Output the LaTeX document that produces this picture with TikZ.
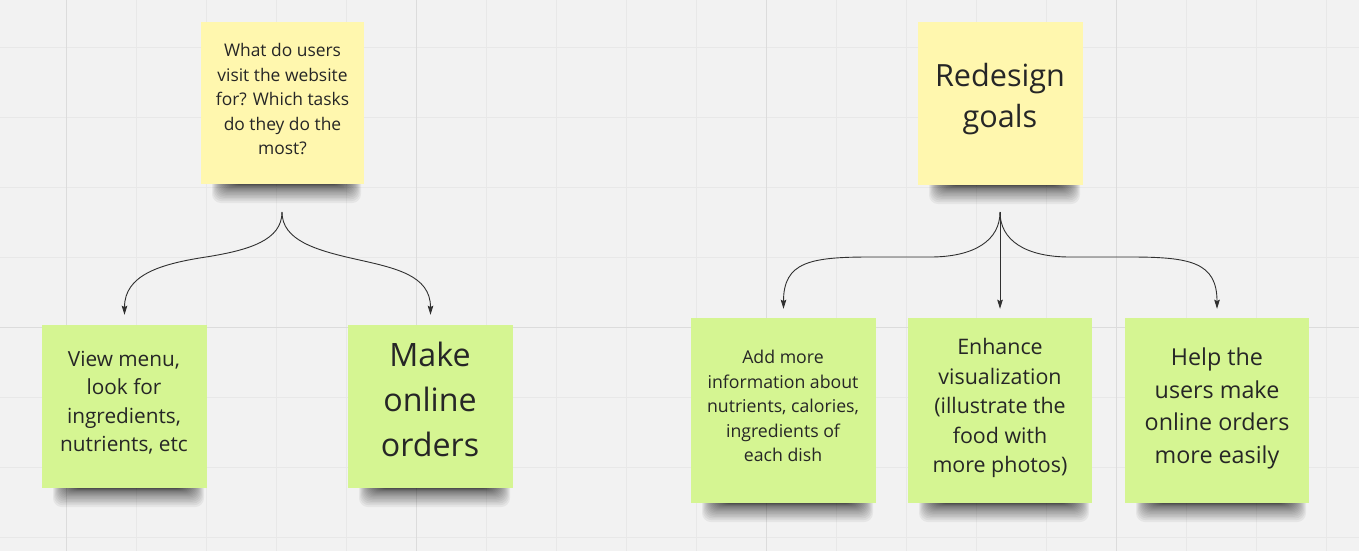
\documentclass[tikz,border=0pt]{standalone}
\usepackage{fontspec}
\setmainfont{Open Sans}
\usetikzlibrary{arrows.meta}
\definecolor{bg}{HTML}{F2F2F2}
\definecolor{gridminor}{HTML}{E8E8E8}
\definecolor{gridmajor}{HTML}{DCDCDC}
\definecolor{noteyellow}{HTML}{FFF7AE}
\definecolor{notegreen}{HTML}{D5F592}
\definecolor{ink}{HTML}{262626}
\definecolor{wire}{HTML}{303030}
\newcommand{\stickyshadow}[3]{%
  \foreach \k in {0,...,19}{%
    \fill[black, opacity=0.05, rounded corners=9pt]
      ({#1+30-1.0*\k},{#3-14}) rectangle ({#2-22+1.0*\k},{#3+1+0.05*\k*\k});
  }%
}
\tikzset{
  note/.style={rectangle, inner sep=0pt, draw=none},
  yellownote/.style={note, fill=noteyellow},
  greennote/.style={note, fill=notegreen},
  notetext/.style={align=center, text=ink, inner sep=0pt},
  conn/.style={draw=wire, line width=0.9pt, -{Stealth[length=9pt,width=5.5pt,inset=1.2pt]}},
}
\begin{document}
\begin{tikzpicture}[x=1pt, y=-1pt]
\useasboundingbox (0,0) rectangle (1359,551);
\fill[bg] (0,0) rectangle (1359,551);
% grid
\foreach \i in {0,...,18}{
  \draw[gridminor, line width=0.9pt] ({66.5+70*\i},0) -- ({66.5+70*\i},551);
}
\foreach \j in {0,...,7}{
  \draw[gridminor, line width=0.9pt] (0,{47.3+70*\j}) -- (1359,{47.3+70*\j});
}
\foreach \i in {0,5,10,15}{
  \draw[gridmajor, line width=1pt] ({66.5+70*\i},0) -- ({66.5+70*\i},551);
}
\draw[gridmajor, line width=1pt] (0,327.3) -- (1359,327.3);
% shadows
\stickyshadow{201}{364}{184}
\stickyshadow{918}{1083}{185}
\stickyshadow{42}{207}{488}
\stickyshadow{348}{513}{488}
\stickyshadow{691}{876}{503}
\stickyshadow{908}{1092}{503}
\stickyshadow{1125}{1309}{503}
% notes
\node[yellownote, minimum width=163pt, minimum height=162pt] (q) at (282.5,103) {};
\node[yellownote, minimum width=165pt, minimum height=163pt] (r) at (1000.5,103.5) {};
\node[greennote, minimum width=165pt, minimum height=163pt] (v1) at (124.5,406.5) {};
\node[greennote, minimum width=165pt, minimum height=163pt] (v2) at (430.5,406.5) {};
\node[greennote, minimum width=185pt, minimum height=185pt] (g1) at (783.5,410.5) {};
\node[greennote, minimum width=184pt, minimum height=185pt] (g2) at (1000,410.5) {};
\node[greennote, minimum width=184pt, minimum height=185pt] (g3) at (1217,410.5) {};
% texts
\node[notetext, font=\fontsize{17.4}{24.5}\selectfont] (qt) at (282.5,99.2)
  {What do users\\visit the website\\for? Which tasks\\do they do the\\most?};
\node[notetext, font=\fontsize{30.6}{41}\selectfont] (rt) at (1000,99.3)
  {Redesign\\goals};
\node[notetext, font=\fontsize{20.8}{28.3}\selectfont] (v1t) at (124,402.8)
  {View menu,\\look for\\ingredients,\\nutrients, etc};
\node[notetext, font=\fontsize{32.2}{45}\selectfont] (v2t) at (430,399.4)
  {Make\\online\\orders};
\node[notetext, font=\fontsize{17.7}{24.6}\selectfont] (g1t) at (783,406.1)
  {Add more\\information about\\nutrients, calories,\\ingredients of\\each dish};
\node[notetext, font=\fontsize{21.4}{29.5}\selectfont] (g2t) at (1000,408.3)
  {Enhance\\visualization\\(illustrate the\\food with\\more photos)};
\node[notetext, font=\fontsize{23.3}{32.5}\selectfont] (g3t) at (1217,408.5)
  {Help the\\users make\\online orders\\more easily};
% connectors
\coordinate (qs) at (282,212);
\coordinate (gs) at (1000,212);
\draw[conn, shorten >=10pt] (qs) .. controls (282,240) and (250,250) .. (206,257)
  .. controls (160,264) and (124.5,275) .. (v1.north);
\draw[conn, shorten >=10pt] (qs) .. controls (282,240) and (315,250) .. (355,259)
  .. controls (395,268) and (430.5,275) .. (v2.north);
\draw[conn, shorten >=9pt] (gs) .. controls (1000,240) and (975,257) .. (930,257)
  -- (870,257) .. controls (810,257) and (783.5,262) .. (g1.north);
\draw[conn, shorten >=9pt] (gs) -- (g2.north);
\draw[conn, shorten >=9pt] (gs) .. controls (1000,240) and (1025,257) .. (1070,257)
  -- (1130,257) .. controls (1190,257) and (1217,262) .. (g3.north);
\end{tikzpicture}
\end{document}
